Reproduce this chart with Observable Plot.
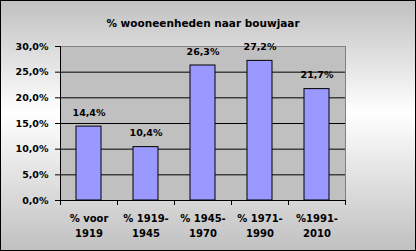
<!DOCTYPE html>
<html>
<head>
<meta charset="utf-8">
<script src="https://cdn.jsdelivr.net/npm/d3@7"></script>
<script src="https://cdn.jsdelivr.net/npm/@observablehq/plot@0.6"></script>
<style>
  html, body { margin: 0; padding: 0; background: #fff; }
</style>
</head>
<body>
<div id="chart"></div>
<script>
const title = "% wooneenheden naar bouwjaar";
const categories = ["% voor\n1919", "% 1919-\n1945", "% 1945-\n1970", "% 1971-\n1990", "%1991-\n2010"];
const values = [14.4, 10.4, 26.3, 27.2, 21.7];
const yTicks = [0, 5, 10, 15, 20, 25, 30];

const data = categories.map((c, i) => ({category: c, value: values[i]}));
const fmt = d => d.toFixed(1).replace(".", ",") + "%";
const font = "'DejaVu Sans', Verdana, sans-serif";
const step = (416 - 60 - 71) / categories.length;

const chart = Plot.plot({
  width: 416,
  height: 251,
  marginLeft: 60,
  marginRight: 71,
  marginTop: 46,
  marginBottom: 51,
  style: {
    background: "linear-gradient(to bottom, #c0c0c0 0%, #ffffff 45%, #c0c0c0 100%)",
    outline: "1px solid #000",
    outlineOffset: "-1px",
    fontFamily: font,
    color: "#000"
  },
  x: {domain: categories, paddingInner: 0.56, paddingOuter: 0.28, label: null},
  y: {domain: [0, 30], label: null},
  marks: [
    Plot.frame({fill: "#c0c0c0", stroke: "#808080"}),
    Plot.ruleY(yTicks.filter(d => d > 0 && d < 30), {stroke: "#000"}),
    Plot.barY(data, {x: "category", y: "value", fill: "#9999ff", stroke: "#000", strokeWidth: 1}),
    Plot.text(data, {x: "category", y: "value", text: d => fmt(d.value), dy: -14, fontSize: 9.5, fontWeight: "bold", fill: "#000"}),
    Plot.ruleY([0], {stroke: "#000"}),
    Plot.ruleX([categories[0]], {x: d => d, dx: -step / 2, stroke: "#000"}),
    Plot.axisY({ticks: yTicks, tickFormat: fmt, tickSize: 5, tickPadding: 7, fontSize: 9.5, fontWeight: "bold", stroke: "#000", label: null}),
    Plot.ruleX(categories, {x: d => d, y1: 0, y2: 0, insetBottom: -5, dx: -step / 2, stroke: "#000"}),
    Plot.ruleX([categories[categories.length - 1]], {x: d => d, y1: 0, y2: 0, insetBottom: -5, dx: step / 2, stroke: "#000"}),
    Plot.axisX({tickSize: 0, tickPadding: 10, fontSize: 10, fontWeight: "bold", lineHeight: 1.55, label: null}),
    Plot.text([title], {frameAnchor: "top", dy: -27, text: d => d, fontSize: 10.5, fontWeight: "bold", fill: "#000"})
  ]
});
document.getElementById("chart").appendChild(chart);
</script>
</body>
</html>
